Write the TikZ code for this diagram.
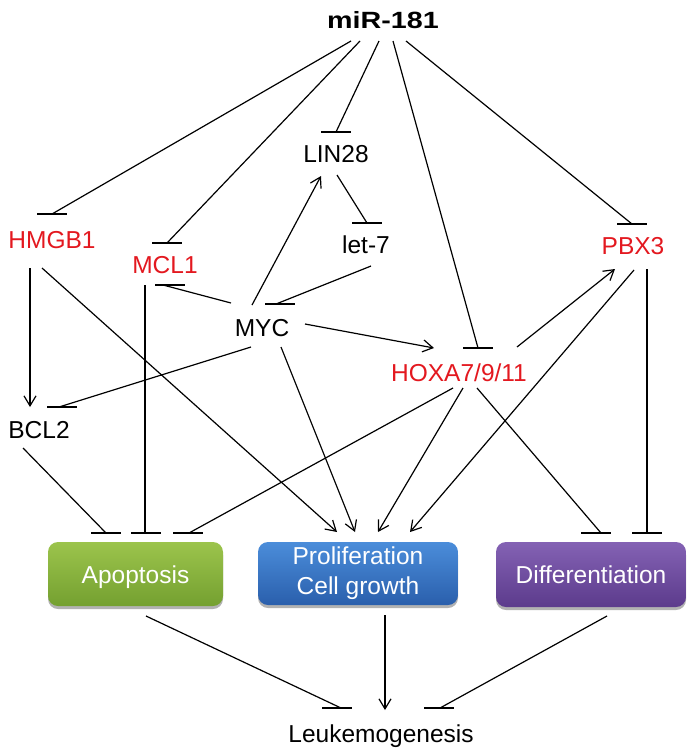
\documentclass[tikz,border=0pt]{standalone}
\usepackage{fontspec}
\setmainfont{Liberation Sans}
\usetikzlibrary{arrows.meta,shadows}
\definecolor{genred}{HTML}{E3181F}
\definecolor{apoTop}{HTML}{9CC44C}
\definecolor{apoBot}{HTML}{74A030}
\definecolor{proTop}{HTML}{4B8DDA}
\definecolor{proBot}{HTML}{2A5FAC}
\definecolor{difTop}{HTML}{8462B4}
\definecolor{difBot}{HTML}{5C3B8C}
\newcommand\inhbar[3]{\draw[link] (#1) -- (#2); \draw[tbar] ([xshift=#3-15]#2) -- ([xshift=#3+15]#2);}
\begin{document}
\begin{tikzpicture}[x=1pt,y=-1pt,
  lbl/.style={font=\fontsize{24.5pt}{29pt}\selectfont, inner sep=0pt, anchor=base},
  redlbl/.style={lbl, text=genred},
  link/.style={line width=1.2pt, draw=black},
  act/.style={link, -{Straight Barb[length=10pt,width=12pt]}},
  tbar/.style={line width=1.3pt, draw=black},
  box/.style={rounded corners=10pt, inner sep=0pt, text=white,
    font=\fontsize{24.5pt}{30pt}\selectfont,
    drop shadow={shadow xshift=0pt, shadow yshift=-3pt, opacity=0.3, fill=black}}
]
\useasboundingbox (0,0) rectangle (687,750);

% labels
\node[lbl, font=\fontsize{23.5pt}{28pt}\selectfont\bfseries] (mir) at (383,28) {\scalebox{1.22}[1]{miR-181}};
\node[redlbl] (hmgb1) at (52,248) {HMGB1};
\node[redlbl] (mcl1) at (165,273) {MCL1};
\node[lbl] (lin28) at (336,162) {LIN28};
\node[lbl] (let7) at (366,253) {let-7};
\node[redlbl] (pbx3) at (633,254) {PBX3};
\node[lbl] (myc) at (262,336) {MYC};
\node[redlbl] (hoxa) at (459,381) {HOXA7/9/11};
\node[lbl] (bcl2) at (39,438) {BCL2};
\node[lbl] (leuk) at (381,742) {Leukemogenesis};

% boxes
\node[box, top color=apoTop, bottom color=apoBot, minimum width=175pt, minimum height=64pt,
  text height=18pt, text depth=0pt] (apo) at (135.5,574) {Apoptosis};
\node[box, top color=proTop, bottom color=proBot, minimum width=200pt, minimum height=63pt,
  align=center] (prol) at (358,573.5) {Proliferation\\Cell growth};
\node[box, top color=difTop, bottom color=difBot, minimum width=190pt, minimum height=65pt,
  text height=18pt, text depth=0pt] (dif) at (591,574.5) {Differentiation};

% connector end points
\coordinate (mirA) at (351,41);
\coordinate (mirB) at (360,41);
\coordinate (mirC) at (379,41);
\coordinate (mirD) at (393,41);
\coordinate (mirE) at (406,41);
\coordinate (hmgT) at (52,214);
\coordinate (mclT) at (167,243);
\coordinate (linT) at (336,132);
\coordinate (hoxT) at (478,348);
\coordinate (pbxT) at (632,224);

\coordinate (linO) at (337,175);
\coordinate (letT) at (367,223);
\coordinate (letO) at (371,266);
\coordinate (mycT) at (276,304);
\coordinate (mycA) at (231,303);
\coordinate (mclB) at (163,285);
\coordinate (mycB) at (252,305);
\coordinate (linA) at (321,176);
\coordinate (mycC) at (305,324);
\coordinate (hoxA) at (434,348);
\coordinate (mycD) at (251,347);
\coordinate (bclT) at (59,407);
\coordinate (mycE) at (281,347);
\coordinate (prolB) at (355,532);
\coordinate (hmgA) at (30,268);
\coordinate (bclA) at (30,407);
\coordinate (hmgB) at (42,268);
\coordinate (prolA) at (337,532);
\coordinate (mclO) at (145,285);
\coordinate (apoB) at (145,533);
\coordinate (bclO) at (23,448);
\coordinate (apoA) at (106,533);
\coordinate (hoxO1) at (453,388);
\coordinate (apoC) at (189,533);
\coordinate (hoxO2) at (463,388);
\coordinate (prolC) at (378,532);
\coordinate (hoxO3) at (477,388);
\coordinate (difA) at (601,533);
\coordinate (hoxO4) at (517,347);
\coordinate (pbxA) at (615,269);
\coordinate (pbxO1) at (634,270);
\coordinate (prolD) at (410,532);
\coordinate (pbxO2) at (647,269);
\coordinate (difB) at (647,533);
\coordinate (apoO) at (146,616);
\coordinate (leukA) at (341,708);
\coordinate (prolO) at (385,615);
\coordinate (leukB) at (385,710);
\coordinate (difO) at (607,616);
\coordinate (leukC) at (440,708);

% miR-181 inhibitions
\inhbar{mirA}{hmgT}{0}
\inhbar{mirB}{mclT}{0}
\inhbar{mirC}{linT}{0}
\inhbar{mirD}{hoxT}{0}
\inhbar{mirE}{pbxT}{0}

% middle network
\inhbar{linO}{letT}{0}
\inhbar{letO}{mycT}{4}
\inhbar{mycA}{mclB}{7}
\draw[act] (mycB) -- (linA);
\draw[act] (mycC) -- (hoxA);
\inhbar{mycD}{bclT}{3}
\draw[act] (mycE) -- (prolB);
\draw[act] (hmgA) -- (bclA);
\draw[act] (hmgB) -- (prolA);
\inhbar{mclO}{apoB}{1}
\inhbar{bclO}{apoA}{0}
\inhbar{hoxO1}{apoC}{-1}
\draw[act] (hoxO2) -- (prolC);
\inhbar{hoxO3}{difA}{-5}
\draw[act] (hoxO4) -- (pbxA);
\draw[act] (pbxO1) -- (prolD);
\inhbar{pbxO2}{difB}{0}

% to leukemogenesis
\inhbar{apoO}{leukA}{-4}
\draw[act] (prolO) -- (leukB);
\inhbar{difO}{leukC}{-1}
\end{tikzpicture}
\end{document}
